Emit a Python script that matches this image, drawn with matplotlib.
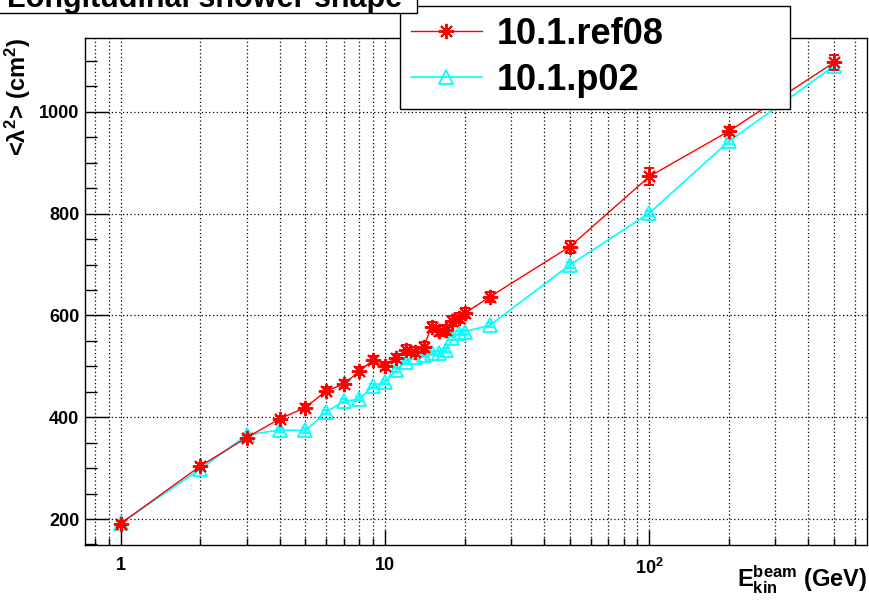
import numpy as np
import matplotlib
matplotlib.use('Agg')
import matplotlib.pyplot as plt
from matplotlib.ticker import FixedLocator, FixedFormatter, MultipleLocator, LogLocator, NullFormatter
from matplotlib.patches import Rectangle

# beam energies (GeV) and <lambda^2> values
energy = [1, 2, 3, 4, 5, 6, 7, 8, 9, 10, 11, 12, 13, 14, 15, 16, 17, 18, 19, 20, 25, 50, 100, 200, 500]
ref08 = [191, 304, 360, 397, 419, 452, 465, 491, 512, 500, 517, 532, 529, 538, 578, 569, 571, 589, 595, 604,
         637, 735, 873, 962, 1097]
ref08_err = [6, 6, 6, 6, 7, 7, 8, 8, 8, 8, 8, 9, 9, 9, 10, 10, 10, 10, 10, 10, 10, 12, 16, 8, 14]
p02 = [192, 298, 365, 375, 374, 410, 432, 435, 462, 469, 492, 509, 519, 522, 526, 526, 532, 555, 565, 568,
       581, 699, 801, 942, 1090]
p02_err = [4, 4, 4, 4, 4, 4, 4, 4, 4, 4, 4, 4, 4, 4, 4, 4, 4, 4, 4, 4, 4, 5, 5, 5, 6]

xtick_pos = [1, 10, 100]
xtick_labels = ['1', '10', r'$\mathbf{10^{2}}$']
ytick_pos = [200, 400, 600, 800, 1000]

plt.rcParams['font.family'] = ['Liberation Sans', 'DejaVu Sans']
plt.rcParams['font.weight'] = 'bold'
plt.rcParams['axes.labelweight'] = 'bold'
plt.rcParams['mathtext.fontset'] = 'custom'
plt.rcParams['mathtext.rm'] = 'Liberation Sans:bold'
plt.rcParams['mathtext.bf'] = 'Liberation Sans:bold'
plt.rcParams['mathtext.it'] = 'Liberation Sans:bold:italic'

W, H = 869, 608
fig = plt.figure(figsize=(W / 100, H / 100), dpi=100)
ax = fig.add_axes([85 / W, 63 / H, 782 / W, 507 / H])
ax.set_xscale('log')
ax.set_xlim(0.733, 666)
ax.set_ylim(149, 1145)

red = ax.errorbar(energy, ref08, yerr=ref08_err, color='#ff0000', lw=1, marker=(8, 2, 0), ms=11, mew=1.4,
                  capsize=3.5, elinewidth=1, zorder=4)
cyan = ax.errorbar(energy, p02, yerr=p02_err, color='#00ffff', lw=1.2, marker='^', ms=10.5, mfc='none',
                   mew=1.3, capsize=3, elinewidth=1, zorder=3)

# axes / ticks ROOT style
ax.xaxis.set_major_locator(FixedLocator(xtick_pos))
ax.xaxis.set_major_formatter(FixedFormatter(xtick_labels))
ax.xaxis.set_minor_locator(LogLocator(base=10, subs=np.arange(2, 10)))
ax.xaxis.set_minor_formatter(NullFormatter())
ax.yaxis.set_major_locator(FixedLocator(ytick_pos))
ax.yaxis.set_minor_locator(MultipleLocator(50))

ax.tick_params(which='both', direction='in', top=False, right=False, width=1, colors='black')
ax.tick_params(axis='x', which='major', length=10.8, pad=9, labelsize=13)
ax.tick_params(axis='x', which='minor', length=5.4)
ax.tick_params(axis='y', which='major', length=17, pad=4, labelsize=13)
ax.tick_params(axis='y', which='minor', length=8.6)

ax.grid(which='both', axis='x', color='black', ls=(0, (1, 2)), lw=0.9)
ax.grid(which='major', axis='y', color='black', ls=(0, (1, 2)), lw=0.9)
for s in ax.spines.values():
    s.set_linewidth(1)

ax.set_xlabel(r'$\mathbf{E^{beam}_{kin}}$ (GeV)', fontsize=17, fontweight='bold', loc='right')
ax.xaxis.set_label_coords(1.0, -0.0375)
ax.set_ylabel(r'<$\mathbf{\lambda^{2}}$> (cm$^{\mathbf{2}}$)', fontsize=17, fontweight='bold', loc='top')
ax.yaxis.set_label_coords(-0.066, 1.0)

# legend box
leg = fig.legend([red[0], cyan[0]], ['10.1.ref08', '10.1.p02'], loc='upper left',
                 bbox_to_anchor=(400 / W, 1 - 101 / H, 390 / W, 95 / H), mode='expand',
                 fontsize=26, numpoints=1, handlelength=1.97, handletextpad=0.42,
                 borderpad=0.3, labelspacing=0.3, borderaxespad=0, fancybox=False,
                 framealpha=1, edgecolor='black')
leg.get_frame().set_linewidth(1)

# title box (cut off at the top, as in ROOT canvas)
fig.patches.append(Rectangle((-0.01, 1 - 13 / H), 417 / W + 0.01, 0.1, transform=fig.transFigure,
                             facecolor='white', edgecolor='black', lw=1, zorder=6))
fig.text(205 / W, 1 - 7 / H, 'Longitudinal shower shape', ha='center', va='baseline', fontsize=22,
         zorder=7)

fig.savefig('out.png', dpi=100)
